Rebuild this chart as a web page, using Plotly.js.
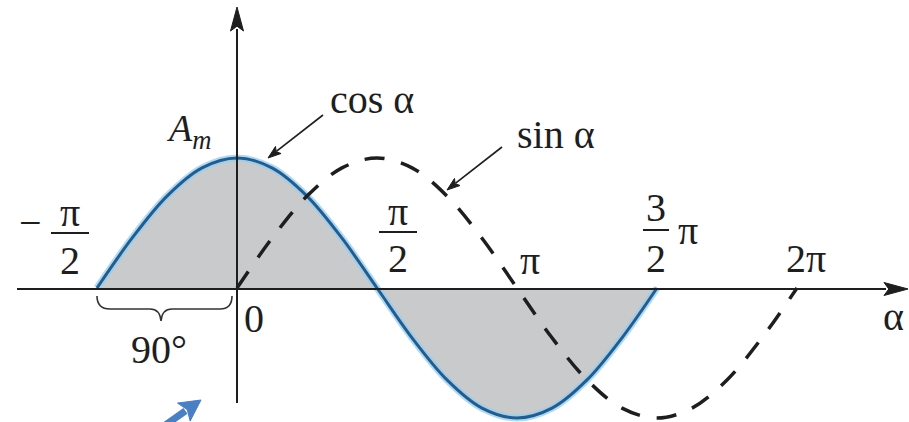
<!DOCTYPE html>
<html><head><meta charset="utf-8">
<script src="https://cdn.plot.ly/plotly-3.0.1.min.js"></script>
<style>html,body{margin:0;padding:0;background:#fff;}#chart{width:909px;height:422px;}</style>
</head><body><div id="chart"></div>
<script>
// ---- data (angles in units of π) ----
const cosAlpha  = [-0.5,-0.375,-0.25,-0.125,0,0.125,0.25,0.375,0.5,0.625,0.75,0.875,1,1.125,1.25,1.375,1.5];
const cosValues = [0,0.383,0.707,0.924,1,0.924,0.707,0.383,0,-0.383,-0.707,-0.924,-1,-0.924,-0.707,-0.383,0];
const sinAlpha  = [0,0.125,0.25,0.375,0.5,0.625,0.75,0.875,1,1.125,1.25,1.375,1.5,1.625,1.75,1.875,2];
const sinValues = [0,0.383,0.707,0.924,1,0.924,0.707,0.383,0,-0.383,-0.707,-0.924,-1,-0.924,-0.707,-0.383,0];
const tickValues = [-0.5,0,0.5,1,1.5,2];
const tickLabels = ['−|π|2|','0','|π|2|','π','|3|2|π','2π']; // prefix|numerator|denominator|suffix
const curveLabels = ['cos α','sin α'];
const amplitudeLabel = '<i>A<sub>m</sub></i>';
const axisLabel = 'α';
const spanLabel = '90°';

// ---- geometry / style ----
const W = 909, H = 422;
const X0 = 237, PXPI = 280, Y0 = 288, PYA = 130;
const FONT = '"Liberation Serif", "DejaVu Serif", serif';
const FS = 40;
const INK = '#1e1e1e';
const px = x => x / W, py = y => 1 - y / H;
const P = (x, y) => px(x).toFixed(5) + ',' + py(y).toFixed(5);

// tick label placement (pixel offsets from the tick point on the axis; +y is up)
const tickPlace = [
  {cx:-27, num:76, bar:55, den:28, half:19, pre:{dx:-67, dy:66}},
  {cx:17, y:-30},
  {cx:21, num:77, bar:56, den:30, half:19},
  {cx:13, y:28},
  {cx:-1, num:81, bar:58, den:30, half:13, suf:{dx:31, dy:58}},
  {cx:9, y:30}
];

const traces = [
  {x: cosAlpha, y: cosValues, type:'scatter', mode:'lines', line:{shape:'spline', width:0, color:'rgba(0,0,0,0)'},
   fill:'tozeroy', fillcolor:'#c9cacc', hoverinfo:'skip', showlegend:false},
  {x: cosAlpha, y: cosValues, type:'scatter', mode:'lines', line:{shape:'spline', width:7, color:'rgba(150,205,240,0.75)'},
   hoverinfo:'skip', showlegend:false},
  {x: cosAlpha, y: cosValues, type:'scatter', mode:'lines', line:{shape:'spline', width:3, color:'#235d8f'},
   showlegend:false},
  {x: sinAlpha, y: sinValues, type:'scatter', mode:'lines', line:{shape:'spline', width:3.5, color:INK, dash:'20px,17px'},
   showlegend:false}
];

const shapes = [];
const annotations = [];
const txt = (text, x, y, size, extra) => Object.assign({text, x: px(x), y: py(y), xref:'paper', yref:'paper',
  xanchor:'center', yanchor:'middle', showarrow:false, font:{family:FONT, size:size||FS, color:INK}}, extra||{});

function arrow(tx, ty, hx, hy, L, Wd, color, lw) {
  const d = Math.hypot(hx - tx, hy - ty), ux = (hx - tx) / d, uy = (hy - ty) / d;
  const bx = hx - ux * L, by = hy - uy * L, nx = -uy, ny = ux;
  shapes.push({type:'line', xref:'paper', yref:'paper', x0:px(tx), y0:py(ty), x1:px(bx + ux*2), y1:py(by + uy*2),
    line:{color, width:lw}, layer:'above'});
  shapes.push({type:'path', xref:'paper', yref:'paper', layer:'above', fillcolor:color, line:{color, width:1},
    path:'M' + P(hx, hy) + ' L' + P(bx + nx*Wd, by + ny*Wd) + ' L' + P(bx + ux*L*0.2, by + uy*L*0.2) +
         ' L' + P(bx - nx*Wd, by - ny*Wd) + ' Z'});
}

// axes
arrow(237, 403, 237, 7, 24, 6.5, INK, 2);
arrow(17, 289, 908, 289, 24, 6.5, INK, 2);

// tick labels
tickValues.forEach((v, i) => {
  const lab = tickLabels[i], p = tickPlace[i];
  const base = {x: v, y: 0, xref:'x', yref:'y', showarrow:false, xanchor:'center', yanchor:'middle',
                font:{family:FONT, size:FS, color:INK}};
  if (lab.indexOf('|') < 0) {
    annotations.push(Object.assign({}, base, {text: lab, xshift: p.cx, yshift: p.y}));
  } else {
    const [pre, num, den, suf] = lab.split('|');
    annotations.push(Object.assign({}, base, {text: num, xshift: p.cx, yshift: p.num}));
    annotations.push(Object.assign({}, base, {text: den, xshift: p.cx, yshift: p.den}));
    shapes.push({type:'line', xref:'x', yref:'y', xsizemode:'pixel', ysizemode:'pixel', xanchor: v, yanchor: 0,
      x0: p.cx - p.half, x1: p.cx + p.half, y0: p.bar, y1: p.bar, line:{color:INK, width:2}});
    if (pre) annotations.push(Object.assign({}, base, {text: pre, xshift: p.pre.dx, yshift: p.pre.dy}));
    if (suf) annotations.push(Object.assign({}, base, {text: suf, xshift: p.suf.dx, yshift: p.suf.dy}));
  }
});

// other labels
annotations.push(txt(amplitudeLabel, 188, 131, 38));
annotations.push(txt(curveLabels[0], 372, 99, FS));
annotations.push(txt(curveLabels[1], 556, 134, FS));
annotations.push(txt(axisLabel, 893, 316, FS));
annotations.push(txt(spanLabel, 159, 349, FS));

// label arrows
arrow(323, 115, 268, 158, 13, 4.5, INK, 1.6);
arrow(502, 147, 447, 190, 13, 4.5, INK, 1.6);
arrow(164, 426, 201, 400, 21, 11, '#4a7fc3', 7);

// brace under 90°
shapes.push({type:'path', xref:'paper', yref:'paper', line:{color:'#333', width:1.6},
  path:'M' + P(97, 296) + ' Q' + P(97, 309) + ' ' + P(110, 309) + ' L' + P(150, 309) +
       ' Q' + P(160, 309) + ' ' + P(161, 321) + ' Q' + P(162, 309) + ' ' + P(172, 309) +
       ' L' + P(220, 309) + ' Q' + P(232, 309) + ' ' + P(232, 296)});

const layout = {
  width: W, height: H, margin:{l:0, r:0, t:0, b:0, pad:0},
  paper_bgcolor:'#fff', plot_bgcolor:'#fff', showlegend:false,
  font:{family:FONT},
  xaxis:{range:[-X0/PXPI, (W - X0)/PXPI], visible:false, fixedrange:true},
  yaxis:{range:[(Y0 - H)/PYA, Y0/PYA], visible:false, fixedrange:true},
  shapes, annotations
};
Plotly.newPlot('chart', traces, layout, {staticPlot:true, displayModeBar:false});
</script></body></html>
